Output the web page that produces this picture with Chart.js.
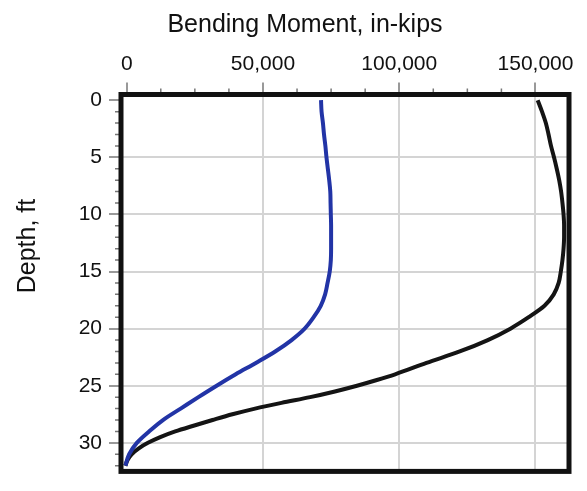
<!DOCTYPE html>
<html lang="en">
<head>
<meta charset="UTF-8">
<title>Bending Moment vs Depth</title>
<script src="https://cdn.jsdelivr.net/npm/chart.js"></script>
<style>
  body { margin: 0; background: #fff; }
</style>
</head>
<body>
<canvas id="myChart" width="587" height="491"></canvas>
<script>
// depth below top of shaft, ft
const depthBlue = [0, 1, 2, 3, 4, 5, 6, 7, 8, 9, 10, 11, 12, 13, 14, 15, 16,
                   17, 18, 19, 20, 21, 22, 23, 24, 25, 26, 27, 28, 29, 30, 31, 32];
const depthBlack = [0, 1, 2, 3, 4, 5, 6, 7, 8, 9, 10, 11, 12, 13, 14, 15, 16,
                    17, 18, 19, 20, 21, 22, 23, 24, 24.5, 25, 25.5, 26, 26.5, 27, 27.5,
                    28, 28.5, 29, 29.5, 30, 30.5, 31, 31.5, 32];

// bending moment, in-kips
const momentBlue = [71300, 71500, 72000, 72400, 72900, 73300, 73800, 74300, 74700, 74800, 74900, 75000, 75000,
                    75000, 74900, 74500, 73700, 72800, 71200, 68600, 65300, 60500, 54500, 47400,
                    40000, 33000, 26300, 19800, 13300, 8200, 3700, 900, -500];
const momentBlack = [150800, 152400, 153800, 154800, 155700, 156800, 157800, 158700, 159400, 159900, 160300,
                     160500, 160500, 160300, 159900, 159300, 158500, 156700, 153300, 147500, 140800,
                     132500, 122200, 110000, 98500, 91800, 84500, 76400, 67300, 56800, 47100, 38800,
                     31500, 24500, 17800, 12300, 7800, 4300, 1800, 300, -500];

const xTicks = [0, 50000, 100000, 150000];
const yTicks = [0, 5, 10, 15, 20, 25, 30];
const xTitle = 'Bending Moment, in-kips';
const yTitle = 'Depth, ft';

const fontFamily = '"Liberation Sans", Arial, sans-serif';

function points(depths, moments) {
    return depths.map((d, i) => ({ x: moments[i], y: d }));
}

// frame, short minor ticks and the two axis titles
const framePlugin = {
    id: 'frame',
    afterDraw(chart) {
        const { ctx, chartArea: a, scales: { x, y } } = chart;
        ctx.save();

        ctx.strokeStyle = '#777';
        ctx.lineWidth = 1.5;
        ctx.beginPath();
        for (let v = 12500; v < x.max; v += 12500) {
            if (v % 50000 === 0) continue;
            const px = x.getPixelForValue(v);
            ctx.moveTo(px, a.top - 6);
            ctx.lineTo(px, a.top);
        }
        for (let v = 1; v < y.max; v++) {
            if (v % 5 === 0) continue;
            const py = y.getPixelForValue(v);
            ctx.moveTo(a.left - 6, py);
            ctx.lineTo(a.left, py);
        }
        ctx.stroke();

        ctx.strokeStyle = '#111';
        ctx.lineWidth = 5;
        ctx.strokeRect(a.left, a.top, a.right - a.left, a.bottom - a.top);

        ctx.fillStyle = '#111';
        ctx.font = '25px ' + fontFamily;
        ctx.textAlign = 'center';
        ctx.textBaseline = 'alphabetic';
        ctx.fillText(xTitle, 305, 32);

        ctx.translate(28, 246);
        ctx.rotate(-Math.PI / 2);
        ctx.textBaseline = 'middle';
        ctx.fillText(yTitle, 0, 0);
        ctx.restore();
    }
};

const ctx = document.getElementById('myChart');

new Chart(ctx, {
    type: 'line',
    data: {
        datasets: [{
            data: points(depthBlue, momentBlue),
            borderColor: '#2234a6',
            borderWidth: 4
        }, {
            data: points(depthBlack, momentBlack),
            borderColor: '#141414',
            borderWidth: 4
        }]
    },
    options: {
        responsive: false,
        animation: false,
        indexAxis: 'y',
        layout: { padding: { left: 0, right: 18, top: 0, bottom: 4.5 } },
        elements: {
            point: { radius: 0 },
            line: { cubicInterpolationMode: 'monotone', fill: false }
        },
        plugins: {
            legend: { display: false },
            tooltip: { enabled: false }
        },
        scales: {
            x: {
                type: 'linear',
                position: 'top',
                min: -2100,
                max: 162300,
                afterBuildTicks: s => { s.ticks = xTicks.map(v => ({ value: v })); },
                afterFit: s => { s.height = 94.5; },
                border: { display: false },
                grid: {
                    color: c => c.tick && c.tick.value === 0 ? 'rgba(0,0,0,0)' : '#d4d4d4',
                    lineWidth: 2,
                    tickLength: 12,
                    tickColor: '#777',
                    tickWidth: 1.5
                },
                ticks: {
                    padding: 6,
                    color: '#111',
                    font: { family: fontFamily, size: 21 },
                    callback: v => v.toLocaleString('en-US')
                }
            },
            y: {
                type: 'linear',
                reverse: true,
                min: -0.5,
                max: 32.5,
                afterBuildTicks: s => { s.ticks = yTicks.map(v => ({ value: v })); },
                afterFit: s => { s.width = 121; },
                border: { display: false },
                grid: {
                    color: c => c.tick && c.tick.value === 0 ? 'rgba(0,0,0,0)' : '#d4d4d4',
                    lineWidth: 2,
                    tickLength: 12,
                    tickColor: '#777',
                    tickWidth: 1.5
                },
                ticks: {
                    padding: 7,
                    color: '#111',
                    font: { family: fontFamily, size: 21 }
                }
            }
        }
    },
    plugins: [framePlugin]
});
</script>
</body>
</html>
